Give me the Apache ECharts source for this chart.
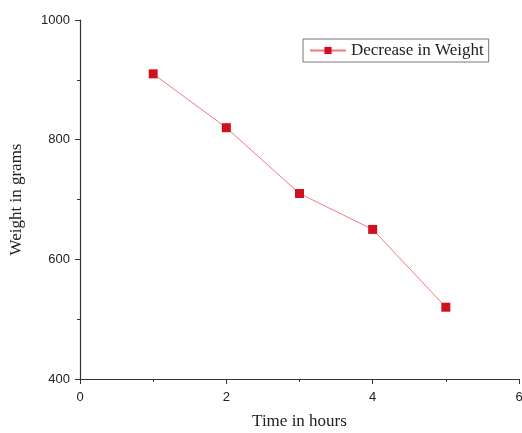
<!DOCTYPE html>
<html>
<head>
<meta charset="utf-8">
<script src="https://cdn.jsdelivr.net/npm/echarts@6/dist/echarts.min.js"></script>
<style>
  html, body { margin: 0; padding: 0; background: #fff; }
  #chart { width: 522px; height: 433px; }
</style>
</head>
<body>
<div id="chart"></div>
<script>
// time (hours) and weight (grams)
var hours = [1, 2, 3, 4, 5];
var weights = [910, 820, 710, 650, 520];
var seriesName = 'Decrease in Weight';

var points = hours.map(function (h, i) { return [h, weights[i]]; });

var chart = echarts.init(document.getElementById('chart'));
chart.setOption({
  animation: false,
  grid: { left: 80, right: 3, top: 20, bottom: 54, outerBoundsMode: 'none', containLabel: false },
  legend: {
    left: 303,
    top: 39,
    data: [seriesName],
    borderColor: '#777',
    borderWidth: 1,
    borderRadius: 0,
    padding: [3, 5, 3, 6],
    itemWidth: 36,
    itemHeight: 9,
    itemGap: 5,
    textStyle: { fontFamily: 'Liberation Serif', fontSize: 17, color: '#222' }
  },
  xAxis: {
    type: 'value',
    min: 0,
    max: 6,
    interval: 2,
    name: 'Time in hours',
    nameLocation: 'middle',
    nameGap: 34,
    nameTextStyle: { fontFamily: 'Liberation Serif', fontSize: 17, color: '#222' },
    axisLine: { onZero: false, lineStyle: { color: '#333', width: 1.2 } },
    axisTick: { show: true, length: 5, lineStyle: { color: '#333' } },
    minorTick: { show: true, splitNumber: 2, length: 3, lineStyle: { color: '#333' } },
    axisLabel: { margin: 12, fontFamily: 'Liberation Sans', fontSize: 13, color: '#222' },
    splitLine: { show: false }
  },
  yAxis: {
    type: 'value',
    min: 400,
    max: 1000,
    interval: 200,
    name: 'Weight in grams',
    nameLocation: 'middle',
    nameGap: 55,
    nameTextStyle: { fontFamily: 'Liberation Serif', fontSize: 17, color: '#222' },
    axisLine: { show: true, onZero: false, lineStyle: { color: '#333', width: 1.2 } },
    axisTick: { show: true, length: 5, lineStyle: { color: '#333' } },
    minorTick: { show: true, splitNumber: 2, length: 3, lineStyle: { color: '#333' } },
    axisLabel: {
      margin: 10, fontFamily: 'Liberation Sans', fontSize: 13, color: '#222',
      formatter: function (v) { return String(v); }
    },
    splitLine: { show: false }
  },
  series: [{
    name: seriesName,
    type: 'line',
    data: points,
    symbol: 'rect',
    symbolSize: 9,
    itemStyle: { color: '#d0101e' },
    lineStyle: { color: '#f07a80', width: 1 }
  }]
});
</script>
</body>
</html>
